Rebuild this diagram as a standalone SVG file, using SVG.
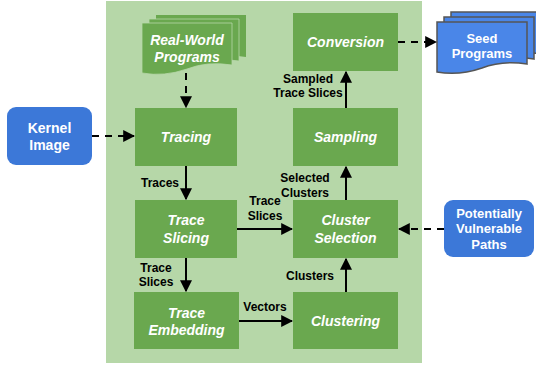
<svg xmlns="http://www.w3.org/2000/svg" width="536" height="367" viewBox="0 0 536 367">
<style>
.node{fill:#6aa84f}
.nt{font-family:"Liberation Sans",Arial,sans-serif;font-size:14px;font-weight:bold;font-style:italic;fill:#fff;text-anchor:middle}
.bt{font-family:"Liberation Sans",Arial,sans-serif;font-weight:bold;fill:#fff;text-anchor:middle}
.lbl{font-family:"Liberation Sans",Arial,sans-serif;font-size:12px;font-weight:bold;fill:#000;text-anchor:middle}
.edge{stroke:#000;stroke-width:2;fill:none;marker-end:url(#ah)}
.dash{stroke-dasharray:7,6}
.blue{fill:#3c78d8}
.seed{fill:#4a86e8;stroke:#555;stroke-width:1.5}
.rw{fill:#6aa84f}
</style>
<defs>
<marker id="ah" viewBox="0 0 10 10" refX="9" refY="5" markerWidth="6" markerHeight="6" orient="auto" markerUnits="strokeWidth">
<path d="M0,0 L10,5 L0,10 Z" fill="#000"/>
</marker>
<path id="doc" d="M0,0 H90 V42 Q65,38 45,46 Q22,54 0,50 Z"/>
</defs>
<rect x="106" y="1" width="316" height="362" fill="#b6d7a8"/>

<g id="real-world-programs">
<use href="#doc" x="156" y="15" class="rw"/>
<use href="#doc" x="149" y="19" class="rw" stroke="#b6d7a8" stroke-width="0.8"/>
<use href="#doc" x="142" y="23" class="rw" stroke="#b6d7a8" stroke-width="0.8"/>
<text class="nt" x="187" y="45">Real-World</text>
<text class="nt" x="187" y="62">Programs</text>
</g>

<g id="kernel-image">
<rect x="7" y="107" width="85" height="58" rx="9" class="blue"/>
<text class="bt" font-size="14" x="49.5" y="133">Kernel</text>
<text class="bt" font-size="14" x="49.5" y="150">Image</text>
</g>

<g id="tracing">
<rect x="135" y="108" width="102" height="58" class="node"/>
<text class="nt" x="186" y="142">Tracing</text>
</g>

<g id="trace-slicing">
<rect x="135" y="200" width="102" height="58" class="node"/>
<text class="nt" x="186" y="225">Trace</text>
<text class="nt" x="186" y="243">Slicing</text>
</g>

<g id="trace-embedding">
<rect x="134" y="292" width="105" height="57" class="node"/>
<text class="nt" x="186.5" y="318">Trace</text>
<text class="nt" x="186.5" y="335">Embedding</text>
</g>

<g id="conversion">
<rect x="293" y="13" width="105" height="58" class="node"/>
<text class="nt" x="345.5" y="47">Conversion</text>
</g>

<g id="sampling">
<rect x="293" y="108" width="105" height="58" class="node"/>
<text class="nt" x="345.5" y="142">Sampling</text>
</g>

<g id="cluster-selection">
<rect x="293" y="200" width="105" height="58" class="node"/>
<text class="nt" x="345.5" y="225">Cluster</text>
<text class="nt" x="345.5" y="243">Selection</text>
</g>

<g id="clustering">
<rect x="293" y="292" width="105" height="57" class="node"/>
<text class="nt" x="345.5" y="326">Clustering</text>
</g>

<g id="seed-programs">
<use href="#doc" x="451" y="12" class="seed"/>
<use href="#doc" x="444" y="17" class="seed"/>
<use href="#doc" x="437" y="22" class="seed"/>
<text class="bt" font-size="13" x="482" y="43">Seed</text>
<text class="bt" font-size="13" x="482" y="58">Programs</text>
</g>

<g id="potentially-vulnerable-paths">
<rect x="444" y="200" width="90" height="57" rx="9" class="blue"/>
<text class="bt" font-size="13" x="489" y="218">Potentially</text>
<text class="bt" font-size="13" x="489" y="233">Vulnerable</text>
<text class="bt" font-size="13" x="489" y="249">Paths</text>
</g>

<g id="connectors">
<path class="edge dash" d="M186,73 V107"/>
<path class="edge dash" d="M92,136 H134"/>
<path class="edge" d="M186,166 V199"/>
<path class="edge" d="M237,229 H292"/>
<path class="edge" d="M186,258 V291"/>
<path class="edge" d="M239,321 H292"/>
<path class="edge" d="M346,292 V259"/>
<path class="edge" d="M346,200 V167"/>
<path class="edge" d="M346,108 V72"/>
<path class="edge dash" d="M398,42 H436"/>
<path class="edge dash" d="M444,229 H399"/>
<text class="lbl" x="160" y="187">Traces</text>
<text class="lbl" x="265" y="205">Trace</text>
<text class="lbl" x="265" y="220">Slices</text>
<text class="lbl" x="156" y="272">Trace</text>
<text class="lbl" x="156" y="286">Slices</text>
<text class="lbl" x="265" y="311">Vectors</text>
<text class="lbl" x="310" y="280">Clusters</text>
<text class="lbl" x="305" y="182">Selected</text>
<text class="lbl" x="305" y="197">Clusters</text>
<text class="lbl" x="308" y="83">Sampled</text>
<text class="lbl" x="308" y="97">Trace Slices</text>
</g>
</svg>
